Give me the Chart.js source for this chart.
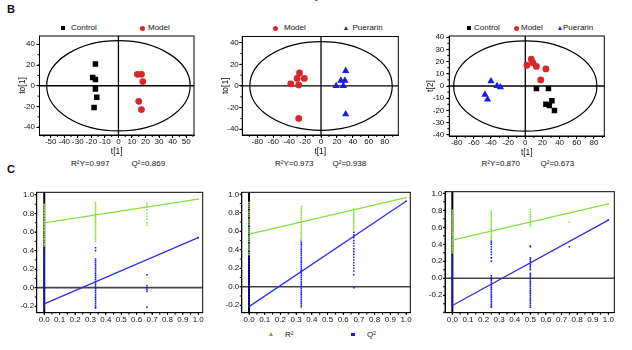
<!DOCTYPE html>
<html><head><meta charset="utf-8">
<script src="https://cdn.jsdelivr.net/npm/chart.js@4.4.1/dist/chart.umd.min.js"></script>
<style>
html,body{margin:0;padding:0;background:#fff;}
body{width:632px;height:350px;position:relative;overflow:hidden;font-family:"Liberation Sans",Arial,sans-serif;color:#111;}
.t{position:absolute;white-space:nowrap;font-size:8px;line-height:10px;}
.sq{position:absolute;width:4px;height:4px;background:#000;}
.ci{position:absolute;width:5px;height:5px;border-radius:50%;background:#d8262a;}
.tr{position:absolute;width:0;height:0;border-left:2.6px solid transparent;border-right:2.6px solid transparent;border-bottom:4.6px solid #1a1aef;}
canvas{position:absolute;}
</style></head>
<body>
<div class="t" style="left:314px;top:-6px;">0</div>
<div class="t" style="left:7px;top:3px;font-size:11px;line-height:12px;font-weight:bold;">B</div>
<div class="t" style="left:7px;top:163px;font-size:11px;line-height:12px;font-weight:bold;">C</div>

<!-- legends B -->
<div class="sq" style="left:61px;top:26px;"></div><div class="t" style="left:71px;top:23px;">Control</div>
<div class="ci" style="left:139.5px;top:25.5px;"></div><div class="t" style="left:148px;top:23px;">Model</div>

<div class="ci" style="left:273px;top:25.5px;"></div><div class="t" style="left:284px;top:23px;">Model</div>
<div class="tr" style="left:343.5px;top:25.5px;"></div><div class="t" style="left:352.5px;top:23px;">Puerarin</div>

<div class="sq" style="left:467px;top:26px;"></div><div class="t" style="left:474px;top:23px;">Control</div>
<div class="ci" style="left:513.5px;top:25.5px;"></div><div class="t" style="left:521px;top:23px;">Model</div>
<div class="tr" style="left:557.5px;top:25.5px;"></div><div class="t" style="left:563px;top:23px;">Puerarin</div>

<!-- fit stats -->
<div class="t" style="left:71px;top:159px;">R²Y=0.997</div><div class="t" style="left:131.5px;top:159px;">Q²=0.869</div>
<div class="t" style="left:275px;top:159px;">R²Y=0.973</div><div class="t" style="left:332.5px;top:159px;">Q²=0.938</div>
<div class="t" style="left:481.5px;top:159px;">R²Y=0.870</div><div class="t" style="left:540.5px;top:159px;">Q²=0.673</div>

<!-- bottom legend -->
<div class="tr" style="left:269px;top:332px;border-bottom-color:#5cb82e;"></div><div class="t" style="left:285px;top:330px;">R²</div>
<div class="sq" style="left:351px;top:332.5px;width:3.5px;height:3.5px;background:#1a1aef;"></div><div class="t" style="left:367px;top:330px;">Q²</div>

<canvas id="b1"></canvas><canvas id="b2"></canvas><canvas id="b3"></canvas>
<canvas id="c1"></canvas><canvas id="c2"></canvas><canvas id="c3"></canvas>

<script>
// ---------------- DATA ----------------
// B1: Control vs Model (OPLS-DA scores)
const b1Control = [[-17,21],[-19,8],[-17,6],[-17,-3],[-16,-11],[-18,-21]];
const b1Model   = [[14,11],[17,11],[18,4],[15,-15],[17,-23]];
const b1Ellipse = [53, 43.5];
const b1XTicks = [-50,-40,-30,-20,-10,0,10,20,30,40,50];
const b1YTicks = [-40,-20,0,20,40];

// B2: Model vs Puerarin
const b2Model    = [[-38,2],[-27,12],[-30,7],[-21,7],[-28,1],[-28,-30]];
const b2Puerarin = [[31,14],[25,5],[30,5],[19,0],[28,0],[31,-26]];
const b2Ellipse = [89.5, 41];
const b2XTicks = [-80,-60,-40,-20,0,20,40,60,80];
const b2YTicks = [-40,-20,0,20,40];

// B3: Control / Model / Puerarin (PLS-DA scores)
const b3Control  = [[13,-2],[27,-2],[31,-12],[24,-15],[28,-16],[34,-20]];
const b3Model    = [[7,22],[9,19],[2,17],[13,16],[24,14],[18,5]];
const b3Puerarin = [[-40,4],[-33,0],[-29,-1],[-47,-7],[-44,-11]];
const b3Ellipse = [83.5, 37];
const b3XTicks = [-80,-60,-40,-20,0,20,40,60,80];
const b3YTicks = [-40,-30,-20,-10,0,10,20,30,40];

// C: permutation tests (x = correlation, columns of permuted R2 / Q2)
const cXTicks = [0,0.1,0.2,0.3,0.4,0.5,0.6,0.7,0.8,0.9,1.0];
const cYTicks = [-0.2,0,0.2,0.4,0.6,0.8,1.0];

const c1PermX = [0, 0.333, 0.667];
const c1R2 = [
  [0.90,0.89,0.87,0.86,0.84,0.83,0.81,0.80,0.78,0.77,0.75,0.74,0.72,0.71,0.69,0.68,0.66,0.65,0.63,0.62,0.60,0.58,0.57,0.55,0.53,0.52,0.50,0.48,0.47,0.45],
  [0.92,0.90,0.88,0.86,0.84,0.82,0.80,0.79,0.77,0.76,0.74,0.73,0.71,0.70,0.68,0.66,0.64,0.62,0.60,0.58,0.56,0.54,0.52,0.50],
  [0.91,0.89,0.87,0.84,0.80,0.77,0.74,0.70,0.67]
];
const c1Q2 = [
  [0.42,0.40,0.38,0.36,0.34,0.32,0.30,0.28,0.26,0.24,0.22,0.20,0.18,0.16,0.14,0.12,0.10,0.08,0.06,0.04,0.02,0.00,-0.02,-0.04,-0.06,-0.08,-0.10,-0.12,-0.14,-0.16,-0.18,-0.20,-0.22],
  [0.43,0.40,0.31,0.29,0.27,0.25,0.23,0.21,0.19,0.17,0.15,0.13,0.11,0.09,0.07,0.05,0.03,0.01,-0.01,-0.03,-0.05,-0.07,-0.09,-0.11,-0.13,-0.15,-0.17,-0.19,-0.21,-0.22],
  [0.14,0.02,0.00,-0.02,-0.04,-0.21]
];
const c1R2Line = [0.70, 0.955];
const c1Q2Line = [-0.175, 0.54];

const c2PermX = [0, 0.333, 0.667];
const c2R2 = [
  [0.91,0.89,0.87,0.85,0.82,0.80,0.78,0.76,0.73,0.71,0.69,0.67,0.64,0.62,0.60,0.58,0.55,0.53,0.51,0.49,0.46,0.44,0.42,0.40,0.37,0.35],
  [0.87,0.85,0.83,0.81,0.79,0.77,0.75,0.73,0.71,0.69,0.67,0.65,0.63,0.61,0.59,0.57,0.55,0.53,0.51,0.50],
  [0.84,0.82,0.80,0.78,0.76,0.74,0.72,0.70,0.68,0.66,0.64,0.62]
];
const c2Q2 = [
  [0.70,0.67,0.64,0.61,0.58,0.55,0.52,0.49,0.46,0.43,0.40,0.37,0.34,0.31,0.28,0.25,0.22,0.19,0.16,0.13,0.10,0.07,0.04,0.01,-0.02,-0.05,-0.08,-0.11,-0.14,-0.17,-0.20,-0.22],
  [0.50,0.48,0.46,0.44,0.42,0.40,0.38,0.36,0.34,0.32,0.30,0.28,0.26,0.24,0.22,0.20,0.18,0.16,0.14,0.12,0.10,0.08,0.06,0.04,0.02,0.00,-0.02,-0.04,-0.06,-0.08,-0.10,-0.12,-0.14,-0.16,-0.18,-0.20,-0.22],
  [0.59,0.56,0.53,0.50,0.47,0.44,0.41,0.38,0.35,0.32,0.29,0.26,0.23,0.20,0.17,0.13,-0.01]
];
const c2R2Line = [0.57, 0.965];
const c2Q2Line = [-0.215, 0.925];

const c3PermX = [0, 0.25, 0.5, 0.75];
const c3R2 = [
  [0.80,0.78,0.76,0.74,0.72,0.70,0.68,0.66,0.64,0.62,0.60,0.58,0.56,0.54,0.52,0.50,0.48,0.46,0.44,0.42,0.40,0.38,0.36,0.34,0.32,0.30],
  [0.79,0.77,0.75,0.73,0.71,0.69,0.67,0.65,0.63,0.61,0.59,0.57,0.55,0.53,0.51,0.49,0.47,0.45],
  [0.81,0.78,0.75,0.73,0.71,0.69,0.67,0.65,0.63,0.61],
  [0.66]
];
const c3Q2 = [
  [0.28,0.26,0.24,0.22,0.20,0.17,0.15,0.13,0.11,0.09,0.07,0.05,0.03,0.01,-0.01,-0.03,-0.05,-0.07,-0.09,-0.11,-0.13,-0.15,-0.17,-0.19,-0.21,-0.23,-0.25,-0.27,-0.29,-0.31,-0.33],
  [0.44,0.42,0.40,0.37,0.34,0.31,0.28,0.24,0.20,0.03,0.01,-0.01,-0.03,-0.05,-0.07,-0.09,-0.11,-0.13,-0.15,-0.17,-0.19,-0.21,-0.23,-0.25,-0.27,-0.29,-0.31,-0.33,-0.34],
  [0.38,0.37,0.24,0.22,0.20,0.18,0.16,0.14,0.12,0.10,0.06,0.04,0.02,0.00,-0.02,-0.04,-0.06,-0.08,-0.10,-0.12,-0.14,-0.16,-0.18,-0.20,-0.22,-0.24,-0.26,-0.28,-0.30,-0.32,-0.34],
  [0.37]
];
const c3R2Line = [0.45, 0.875];
const c3Q2Line = [-0.32, 0.685];

// ---------------- STYLE / HELPERS ----------------
const FAM = '"Liberation Sans", Arial, sans-serif';
const TICKFONT = {family: FAM, size: 8, lineHeight: 1};
const TITLEFONT = {family: FAM, size: 8.5, lineHeight: 1.2};
const RED = '#d8262a', BLUE = '#1a1aef', GREEN = '#86e040', LBLUE = '#2f2fe6';

const decor = {
  id: 'decor',
  beforeDatasetsDraw(chart, args, o) {
    const {ctx, chartArea: a, scales: {x, y}} = chart;
    ctx.save();
    ctx.beginPath(); ctx.rect(a.left, a.top, a.right - a.left, a.bottom - a.top); ctx.clip();
    const px0 = x.getPixelForValue(0), py0 = y.getPixelForValue(0);
    if (o.zeroY) { ctx.strokeStyle = o.zeroY.c; ctx.lineWidth = o.zeroY.w;
      ctx.beginPath(); ctx.moveTo(a.left, py0); ctx.lineTo(a.right, py0); ctx.stroke(); }
    if (o.zeroX) { ctx.strokeStyle = o.zeroX.c; ctx.lineWidth = o.zeroX.w;
      ctx.beginPath(); ctx.moveTo(px0, a.top); ctx.lineTo(px0, a.bottom); ctx.stroke(); }
    if (o.ellipse) {
      const rx = Math.abs(x.getPixelForValue(o.ellipse[0]) - px0);
      const ry = Math.abs(y.getPixelForValue(o.ellipse[1]) - py0);
      ctx.strokeStyle = '#000'; ctx.lineWidth = 1.2;
      ctx.beginPath(); ctx.ellipse(px0, py0, rx, ry, 0, 0, Math.PI * 2); ctx.stroke();
    }
    ctx.restore();
  },
  afterDraw(chart, args, o) {
    const {ctx, chartArea: a, scales: {x, y}} = chart;
    ctx.save();
    ctx.strokeStyle = '#000'; ctx.lineWidth = 1;
    ctx.strokeRect(a.left, a.top, a.right - a.left, a.bottom - a.top);
    ctx.beginPath();
    if (o.minorX) {
      const s = o.minorX;
      for (let v = Math.ceil(x.min / s) * s; v <= x.max + 1e-9; v += s) {
        const p = x.getPixelForValue(v);
        ctx.moveTo(p, a.bottom); ctx.lineTo(p, a.bottom + 2);
      }
    }
    if (o.minorY) {
      const s = o.minorY;
      for (let v = Math.ceil(y.min / s) * s; v <= y.max + 1e-9; v += s) {
        const p = y.getPixelForValue(v);
        ctx.moveTo(a.left, p); ctx.lineTo(a.left - 2, p);
      }
    }
    ctx.stroke();
    ctx.restore();
  }
};

function axis(isX, min, max, ticks, size, tickLen, tickPad, fmt, title, titlePad) {
  return {
    type: 'linear', bounds: 'data', min, max,
    afterBuildTicks: s => { s.ticks = ticks.map(v => ({value: v})); },
    afterFit: s => { if (isX) s.height = size; else s.width = size; },
    ticks: {autoSkip: false, maxRotation: 0, minRotation: 0, padding: tickPad, font: TICKFONT, color: '#111',
            callback: v => fmt(v)},
    grid: {display: true, drawOnChartArea: false, drawTicks: true, tickLength: tickLen, color: '#000', lineWidth: 1},
    border: {display: true, color: '#000', width: 1},
    title: title ? {display: true, text: title, font: TITLEFONT, color: '#111', padding: titlePad} : {display: false}
  };
}

function mount(id, box, W, H) {
  const L = Math.floor(box.l - W - 1), T = Math.floor(box.t - 6);
  const R = Math.ceil(box.r + 8), B = Math.ceil(box.b + H + 1);
  const cv = document.getElementById(id);
  cv.style.left = L + 'px'; cv.style.top = T + 'px';
  cv.width = R - L; cv.height = B - T;
  cv.style.width = (R - L) + 'px'; cv.style.height = (B - T) + 'px';
  return {cv, padding: {left: box.l - W - L, top: box.t - T, right: R - box.r, bottom: B - box.b - H}};
}

const pts = arr => arr.map(p => ({x: p[0], y: p[1]}));
const intFmt = v => String(Math.round(v));
const decFmt = v => (Math.abs(v) < 1e-9 ? 0 : v).toFixed(1);

function scoreChart(id, box, W, H, xr, yr, xt, yt, ytitle, yTickPad, ell, minor, sets) {
  const m = mount(id, box, W, H);
  return new Chart(m.cv, {
    type: 'scatter',
    data: {datasets: sets},
    options: {
      responsive: false, animation: false, devicePixelRatio: 1,
      layout: {padding: m.padding},
      plugins: {legend: {display: false}, tooltip: {enabled: false},
        decor: {ellipse: ell, zeroX: {w: 1.3, c: '#000'}, zeroY: {w: 1.3, c: '#000'}, minorX: minor[0], minorY: minor[1]}},
      scales: {
        x: axis(true, xr[0], xr[1], xt, H, 3, 0, intFmt, 't[1]', {top: 0, bottom: 0.5}),
        y: axis(false, yr[0], yr[1], yt, W, 3, yTickPad, intFmt, ytitle, {top: 0, bottom: 0})
      }
    },
    plugins: [decor]
  });
}

const sqSet = (d) => ({data: pts(d), pointStyle: 'rect', pointRadius: 3.9, backgroundColor: '#000', borderColor: '#000', borderWidth: 0});
const ciSet = (d) => ({data: pts(d), pointStyle: 'circle', pointRadius: 3.4, backgroundColor: RED, borderColor: RED, borderWidth: 0});
const trSet = (d) => ({data: pts(d), pointStyle: 'triangle', pointRadius: 4.2, backgroundColor: BLUE, borderColor: BLUE, borderWidth: 0});

scoreChart('b1', {l: 39.5, t: 36, r: 194, b: 135}, 22, 22, [-58.3, 55.8], [-47.5, 48], b1XTicks, b1YTicks, 'to[1]', 1.5,
  b1Ellipse, [5, 10], [sqSet(b1Control), ciSet(b1Model)]);
scoreChart('b2', {l: 242.3, t: 36.5, r: 398.3, b: 135}, 22, 22, [-98.9, 97.1], [-45.3, 45.7], b2XTicks, b2YTicks, 'to[1]', 0.5,
  b2Ellipse, [10, 10], [ciSet(b2Model), trSet(b2Puerarin)]);
scoreChart('b3', {l: 449.3, t: 36, r: 604.3, b: 136}, 24, 22, [-88.6, 92.1], [-40.95, 40.95], b3XTicks, b3YTicks, 't[2]', 2,
  b3Ellipse, [10, 5], [sqSet(b3Control), ciSet(b3Model), trSet(b3Puerarin)]);

function permPts(xs, cols) {
  const out = [];
  cols.forEach((col, i) => col.forEach(v => out.push({x: xs[i], y: v})));
  return out;
}

function permChart(id, box, xr, yr, xs, r2, q2, r2Line, q2Line) {
  const W = 30, H = 14;
  const m = mount(id, box, W, H);
  const dot = (c) => ({pointStyle: 'rect', pointRadius: 1.1, backgroundColor: c, borderColor: c, borderWidth: 0, showLine: false});
  return new Chart(m.cv, {
    type: 'scatter',
    data: {datasets: [
      Object.assign({data: permPts(xs, r2).concat([{x: 1, y: r2Line[1]}])}, dot(GREEN)),
      Object.assign({data: permPts(xs, q2).concat([{x: 1, y: q2Line[1]}])}, dot(BLUE)),
      {data: [{x: 0, y: r2Line[0]}, {x: 1, y: r2Line[1]}], showLine: true, borderColor: GREEN, borderWidth: 1.3, pointRadius: 0},
      {data: [{x: 0, y: q2Line[0]}, {x: 1, y: q2Line[1]}], showLine: true, borderColor: LBLUE, borderWidth: 1.3, pointRadius: 0}
    ]},
    options: {
      responsive: false, animation: false, devicePixelRatio: 1,
      layout: {padding: m.padding},
      plugins: {legend: {display: false}, tooltip: {enabled: false},
        decor: {zeroX: {w: 2, c: '#000'}, zeroY: {w: 1.6, c: '#444'}, minorX: 0.05, minorY: 0.1}},
      scales: {
        x: axis(true, xr[0], xr[1], cXTicks, H, 2, 1.3, decFmt, null),
        y: axis(false, yr[0], yr[1], cYTicks, W, 2, 0.5, decFmt, null)
      }
    },
    plugins: [decor]
  });
}

permChart('c1', {l: 36.7, t: 192.3, r: 202.7, b: 312.7}, [-0.049, 1.029], [-0.27, 1.029], c1PermX, c1R2, c1Q2, c1R2Line, c1Q2Line);
permChart('c2', {l: 241.8, t: 192.3, r: 410.3, b: 312.7}, [-0.046, 1.027], [-0.281, 1.022], c2PermX, c2R2, c2Q2, c2R2Line, c2Q2Line);
permChart('c3', {l: 445, t: 191.7, r: 614.3, b: 312.7}, [-0.047, 1.038], [-0.405, 1.019], c3PermX, c3R2, c3Q2, c3R2Line, c3Q2Line);
</script>
</body></html>
